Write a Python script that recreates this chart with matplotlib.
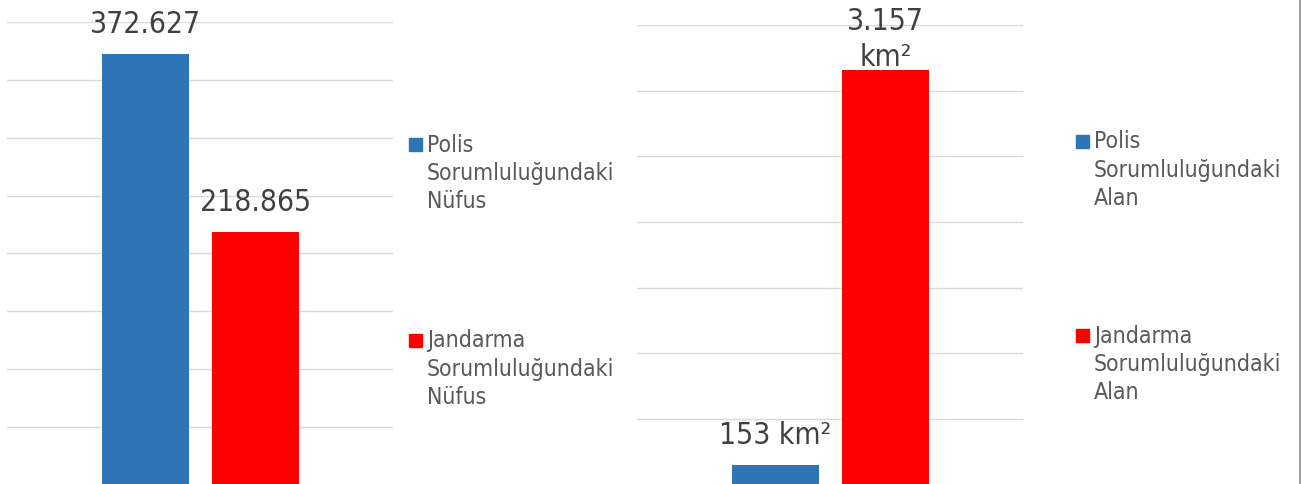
import matplotlib.pyplot as plt
from matplotlib.lines import Line2D

# ---------------------------------------------------------
# DATI
# ---------------------------------------------------------
series = ["Polis", "Jandarma"]
colori = ["#2e75b6", "#ff0000"]

nufus = [372627, 218865]
nufus_labels = ["372.627", "218.865"]
nufus_legend = ["Polis\nSorumluluğundaki\nNüfus", "Jandarma\nSorumluluğundaki\nNüfus"]

alan = [153, 3157]
alan_labels = ["153 km²", "3.157\nkm²"]
alan_legend = ["Polis\nSorumluluğundaki\nAlan", "Jandarma\nSorumluluğundaki\nAlan"]

W, H = 1301, 485
FONT = dict(family="DejaVu Sans", stretch="condensed")
GRID = "#d9d9d9"
TXT = "#404040"
LEG = "#595959"


def px(x0, y_top, x1, y_bot):
    # pixel box -> figure fraction
    return [x0 / W, (H - y_bot) / H, (x1 - x0) / W, (y_bot - y_top) / H]


def draw_panel(fig, box, values, labels, ymax, step, legend_txt, leg_x, leg_y, offsets):
    ax = fig.add_axes(box)
    xs = list(range(len(values)))
    bars = ax.bar(xs, values, width=0.79, color=colori, zorder=2)
    ax.set_xlim(-1.259, 2.25)
    ax.set_ylim(0, ymax)
    for v in range(step, ymax + 1, step):
        ax.axhline(v, color=GRID, lw=1.0, zorder=1)
    for b, lab, off in zip(bars, labels, offsets):
        ax.annotate(lab, (b.get_x() + b.get_width() / 2, b.get_height()),
                    xytext=(0, off), textcoords="offset points",
                    ha="center", va="bottom", fontsize=21.5, color=TXT,
                    linespacing=1.32, **FONT)
    ax.axis("off")

    # legenda manuale
    for i, (c, t) in enumerate(zip(colori, legend_txt)):
        y = leg_y[i]
        fig.patches.append(plt.Rectangle((leg_x / W, (H - y - 6.5) / H), 13 / W, 13 / H,
                                         transform=fig.transFigure, color=c))
        fig.text((leg_x + 18) / W, (H - y + 12) / H, t, ha="left", va="top",
                 fontsize=16.5, color=LEG, linespacing=1.3, **FONT)
    return ax


fig = plt.figure(figsize=(W / 100, H / 100), dpi=100)

draw_panel(fig, px(7, 23, 393, 486), nufus, nufus_labels, 400000, 50000,
           nufus_legend, 409, [145.5, 341.5], [11, 11])
draw_panel(fig, px(637, 26, 1023, 485.6), alan, alan_labels, 3500, 500,
           alan_legend, 1076, [142.5, 336.5], [11, -1])

# bordo destro
fig.add_artist(Line2D([1300 / W, 1300 / W], [0, 1], color="#8c8c8c", lw=1.2,
                      transform=fig.transFigure))

fig.savefig("out.png", dpi=100)
